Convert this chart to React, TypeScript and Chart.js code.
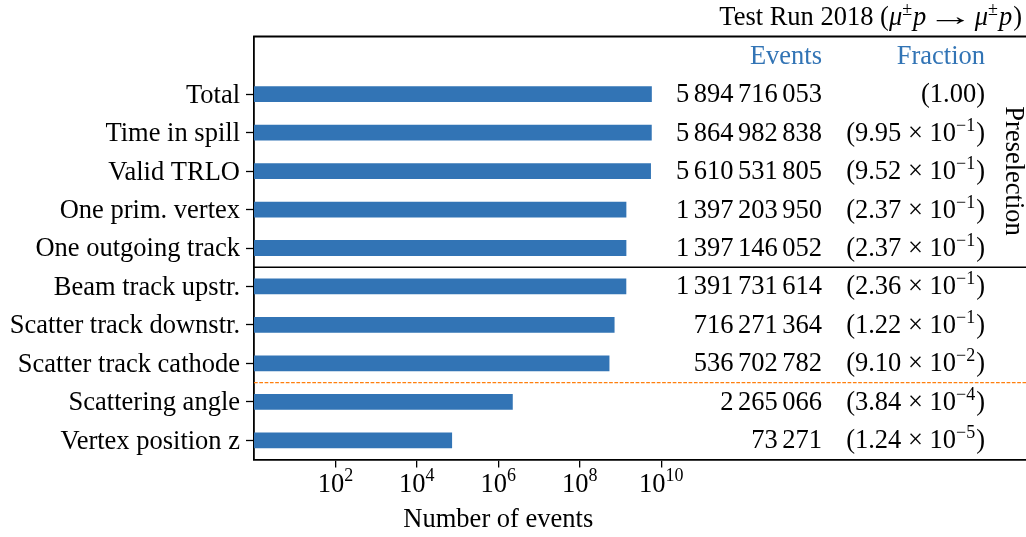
import React, { useEffect, useRef } from "react";
import { Chart, registerables } from "chart.js";

Chart.register(...registerables);

// ---------------- data ----------------
const categories = [
  "",
  "Total",
  "Time in spill",
  "Valid TRLO",
  "One prim. vertex",
  "One outgoing track",
  "Beam track upstr.",
  "Scatter track downstr.",
  "Scatter track cathode",
  "Scattering angle",
  "Vertex position z",
];
const events: (number | null)[] = [
  null,
  5894716053,
  5864982838,
  5610531805,
  1397203950,
  1397146052,
  1391731614,
  716271364,
  536702782,
  2265066,
  73271,
];
const fractionMantissa = ["", "1.00", "9.95", "9.52", "2.37", "2.37", "2.36", "1.22", "9.10", "3.84", "1.24"];
const fractionExponent: (number | null)[] = [null, null, -1, -1, -1, -1, -1, -1, -2, -4, -5];
const xTickExponents = [2, 4, 6, 8, 10];
const headerEvents = "Events";
const headerFraction = "Fraction";
const groupLabel = "Preselection";
const xAxisLabel = "Number of events";
const lastPreselectionIndex = 5;
const lastBeforeDashedIndex = 8;

// ---------------- style ----------------
const FONT = "'Liberation Serif', 'Times New Roman', serif";
const FS = 26.5;
const SUP = 18;
const BLUE = "#3274b5";
const ORANGE = "#ff7f0e";

type Seg = { t: string; size?: number; italic?: boolean; dy?: number; gap?: number; sx?: number };

function drawSegs(ctx: CanvasRenderingContext2D, segs: Seg[], x: number, baseline: number, align: "right" | "center" | "left", color: string) {
  const widths: number[] = [];
  let total = 0;
  for (const s of segs) {
    ctx.font = `${s.italic ? "italic " : ""}${s.size ?? FS}px ${FONT}`;
    const w = ctx.measureText(s.t).width * (s.sx ?? 1);
    widths.push(w);
    total += w + (s.gap ?? 0);
  }
  let cx = align === "right" ? x - total : align === "center" ? x - total / 2 : x;
  ctx.fillStyle = color;
  ctx.textAlign = "left";
  ctx.textBaseline = "alphabetic";
  segs.forEach((s, i) => {
    cx += s.gap ?? 0;
    ctx.font = `${s.italic ? "italic " : ""}${s.size ?? FS}px ${FONT}`;
    if (s.sx && s.sx !== 1) {
      ctx.save();
      ctx.translate(cx, baseline - (s.dy ?? 0));
      ctx.scale(s.sx, 1);
      ctx.fillText(s.t, 0, 0);
      ctx.restore();
    } else {
      ctx.fillText(s.t, cx, baseline - (s.dy ?? 0));
    }
    cx += widths[i];
  });
}

function eventSegs(v: number): Seg[] {
  const s = String(v);
  const groups: string[] = [];
  for (let i = s.length; i > 0; i -= 3) groups.unshift(s.slice(Math.max(0, i - 3), i));
  return groups.map((g, i) => ({ t: g, gap: i === 0 ? 0 : 4.5 }));
}

const EVENTS_RIGHT = 822;
const FRACTION_RIGHT = 985;
const TEXT_DY = 8;

const overlay = {
  id: "overlay",
  afterDraw(chart: any) {
    const { ctx, chartArea: a, scales } = chart;
    const xs = scales.x;
    const ys = scales.y;
    ctx.save();

    // top spine
    ctx.strokeStyle = "#000";
    ctx.lineWidth = 1.8;
    ctx.beginPath();
    ctx.moveTo(a.left - 0.9, a.top);
    ctx.lineTo(a.right, a.top);
    ctx.stroke();

    // solid separator
    const ySolid = (ys.getPixelForValue(lastPreselectionIndex) + ys.getPixelForValue(lastPreselectionIndex + 1)) / 2;
    ctx.lineWidth = 1.3;
    ctx.beginPath();
    ctx.moveTo(a.left, ySolid);
    ctx.lineTo(a.right, ySolid);
    ctx.stroke();

    // dashed separator
    const yDash = (ys.getPixelForValue(lastBeforeDashedIndex) + ys.getPixelForValue(lastBeforeDashedIndex + 1)) / 2;
    ctx.strokeStyle = ORANGE;
    ctx.lineWidth = 1.1;
    ctx.setLineDash([3.7, 1.6]);
    ctx.beginPath();
    ctx.moveTo(a.left, yDash);
    ctx.lineTo(a.right, yDash);
    ctx.stroke();
    ctx.setLineDash([]);

    // header
    const yHead = ys.getPixelForValue(0) + TEXT_DY;
    drawSegs(ctx, [{ t: headerEvents }], EVENTS_RIGHT, yHead, "right", BLUE);
    drawSegs(ctx, [{ t: headerFraction }], FRACTION_RIGHT, yHead, "right", BLUE);

    // rows
    for (let i = 1; i < categories.length; i++) {
      const v = events[i];
      if (v == null) continue;
      const yb = ys.getPixelForValue(i) + TEXT_DY;
      drawSegs(ctx, eventSegs(v), EVENTS_RIGHT, yb, "right", "#000");
      const e = fractionExponent[i];
      const segs: Seg[] =
        e == null
          ? [{ t: `(${fractionMantissa[i]})` }]
          : [
              { t: `(${fractionMantissa[i]} \u00d7 10` },
              { t: `\u2212${Math.abs(e)}`, size: SUP, dy: 10 },
              { t: ")", gap: 1 },
            ];
      drawSegs(ctx, segs, FRACTION_RIGHT, yb, "right", "#000");
    }

    // group label rotated
    const yMid = (ys.getPixelForValue(1) + ys.getPixelForValue(lastPreselectionIndex)) / 2;
    ctx.save();
    ctx.translate(1013, yMid);
    ctx.rotate(Math.PI / 2);
    ctx.font = `${FS}px ${FONT}`;
    ctx.fillStyle = "#000";
    ctx.textAlign = "center";
    ctx.textBaseline = "middle";
    ctx.fillText(groupLabel, 0, 0);
    ctx.restore();

    // title
    drawSegs(
      ctx,
      [
        { t: "Test Run 2018 (" },
        { t: "\u03bc", italic: true },
        { t: "\u00b1", size: SUP, dy: 10 },
        { t: "p", italic: true, gap: 1 },
        { t: "\u2192", gap: 1, sx: 1.75 },
        { t: "\u03bc", italic: true, gap: 1 },
        { t: "\u00b1", size: SUP, dy: 10 },
        { t: "p", italic: true, gap: 1 },
        { t: ")", gap: 1 },
      ],
      1022,
      25,
      "right",
      "#000"
    );

    // x tick labels
    for (const e of xTickExponents) {
      const px = xs.getPixelForValue(Math.pow(10, e));
      drawSegs(ctx, [{ t: "10" }, { t: String(e), size: SUP, dy: 11 }], px, 491.5, "center", "#000");
    }

    // x axis label
    drawSegs(ctx, [{ t: xAxisLabel }], xs.getPixelForValue(1e6), 527, "center", "#000");

    ctx.restore();
  },
};

export default function App() {
  const ref = useRef<HTMLCanvasElement | null>(null);
  useEffect(() => {
    if (!ref.current) return;
    const chart = new Chart(ref.current, {
      type: "bar",
      data: {
        labels: categories,
        datasets: [
          {
            data: events as any,
            backgroundColor: BLUE,
            borderWidth: 0,
            barPercentage: 0.41,
            categoryPercentage: 1,
          },
        ],
      },
      options: {
        indexAxis: "y",
        responsive: false,
        animation: false,
        maintainAspectRatio: false,
        layout: { padding: { top: 36.5, right: 0, left: 0, bottom: 0 } },
        plugins: { legend: { display: false }, tooltip: { enabled: false }, title: { display: false } },
        scales: {
          x: {
            type: "logarithmic",
            position: "bottom",
            min: 1,
            max: Math.pow(10, 18.96),
            grid: { display: true, drawOnChartArea: false, drawTicks: true, tickLength: 8, color: "#000", lineWidth: 1.3 },
            border: { display: true, color: "#000", width: 1.8 },
            ticks: { display: false },
            afterBuildTicks: (s: any) => {
              s.ticks = xTickExponents.map((e) => ({ value: Math.pow(10, e) }));
            },
            afterFit: (s: any) => {
              s.height = 77.5;
            },
          },
          y: {
            type: "category",
            position: "left",
            offset: true,
            grid: {
              display: true,
              offset: false,
              drawOnChartArea: false,
              drawTicks: true,
              tickLength: 8,
              color: "#000",
              tickColor: (c: any) => (c.index === 0 ? "rgba(0,0,0,0)" : "#000"),
              tickWidth: 1.3,
            },
            border: { display: true, color: "#000", width: 1.8 },
            ticks: { font: { family: FONT, size: FS }, color: "#000", padding: 6, autoSkip: false, labelOffset: 1.5 },
            afterFit: (s: any) => {
              s.width = 254;
            },
          },
        },
      } as any,
      plugins: [overlay],
    });
    return () => chart.destroy();
  }, []);
  return (
    <div style={{ position: "fixed", left: 0, top: 0, width: 1026, height: 537, background: "#fff" }}>
      <canvas ref={ref} width={1026} height={537} style={{ width: 1026, height: 537, display: "block" }} />
    </div>
  );
}
